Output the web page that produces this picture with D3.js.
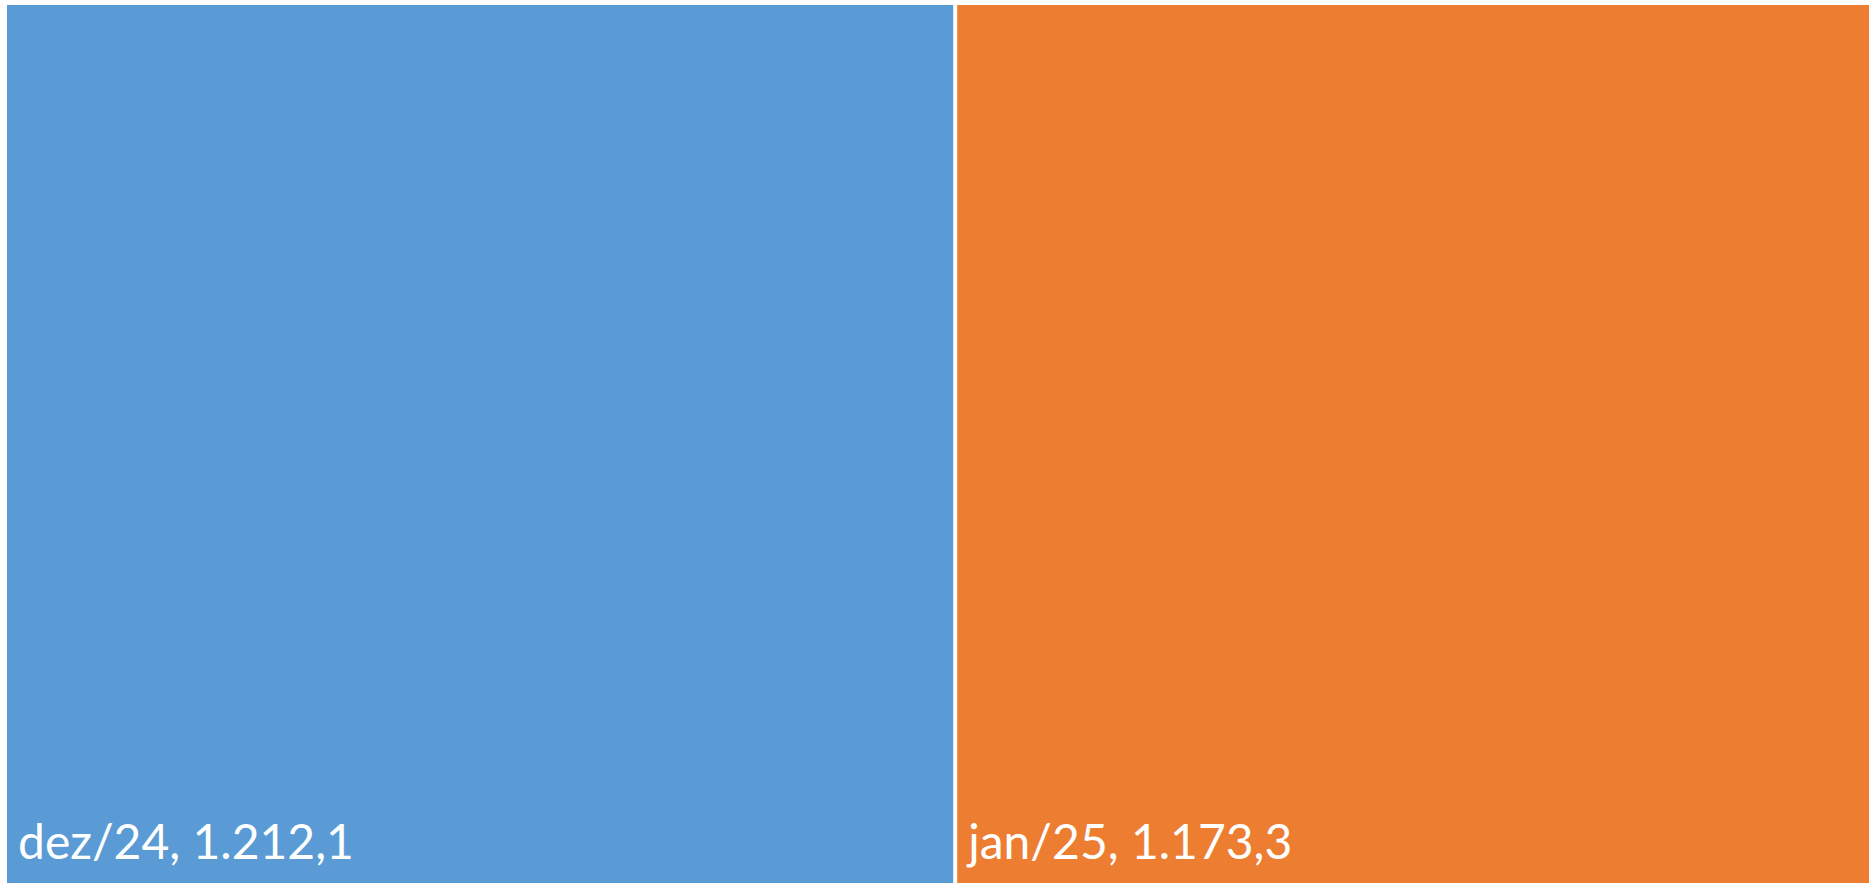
<!DOCTYPE html>
<html>
<head>
<meta charset="utf-8">
<script src="https://cdn.jsdelivr.net/npm/d3@7"></script>
<style>
  html, body { margin: 0; padding: 0; background: #fff; overflow: hidden; }
</style>
</head>
<body>
<div id="chart"></div>
<script>
// data
var months = ["dez/24", "jan/25"];
var values = [1212.1, 1173.3];
var colors = ["#5B9BD5", "#ED7D31"];

var width = 1869, height = 883;
var margin = { top: 5, left: 7, right: -4, bottom: 0 };

var svg = d3.select("#chart")
    .append("svg")
    .attr("width", width)
    .attr("height", height);

var fmt = function (v) {
    // pt-BR style: 1.212,1
    var s = v.toFixed(1).split(".");
    return s[0].replace(/\B(?=(\d{3})+(?!\d))/g, ".") + "," + s[1];
};

var root = d3.hierarchy({
        children: months.map(function (m, i) { return { name: m, value: values[i], color: colors[i] }; })
    })
    .sum(function (d) { return d.value || 0; });

d3.treemap()
    .tile(d3.treemapDice)
    .size([width - margin.left - margin.right, height - margin.top - margin.bottom])
    .paddingInner(4)(root);

var g = svg.append("g")
    .attr("transform", "translate(" + margin.left + "," + margin.top + ")");

var cell = g.selectAll(".cell")
    .data(root.leaves())
    .enter().append("g")
    .attr("class", "cell")
    .attr("transform", function (d) { return "translate(" + d.x0 + "," + d.y0 + ")"; });

cell.append("rect")
    .attr("width", function (d) { return d.x1 - d.x0; })
    .attr("height", function (d) { return d.y1 - d.y0; })
    .style("fill", function (d) { return d.data.color; });

cell.append("text")
    .attr("x", 11)
    .attr("y", function (d) { return d.y1 - d.y0 - 24; })
    .style("font-family", "Lato, 'Open Sans', sans-serif")
    .style("font-size", "48px")
    .style("fill", "#fff")
    .text(function (d) { return d.data.name + ", " + fmt(d.data.value); });
</script>
</body>
</html>
